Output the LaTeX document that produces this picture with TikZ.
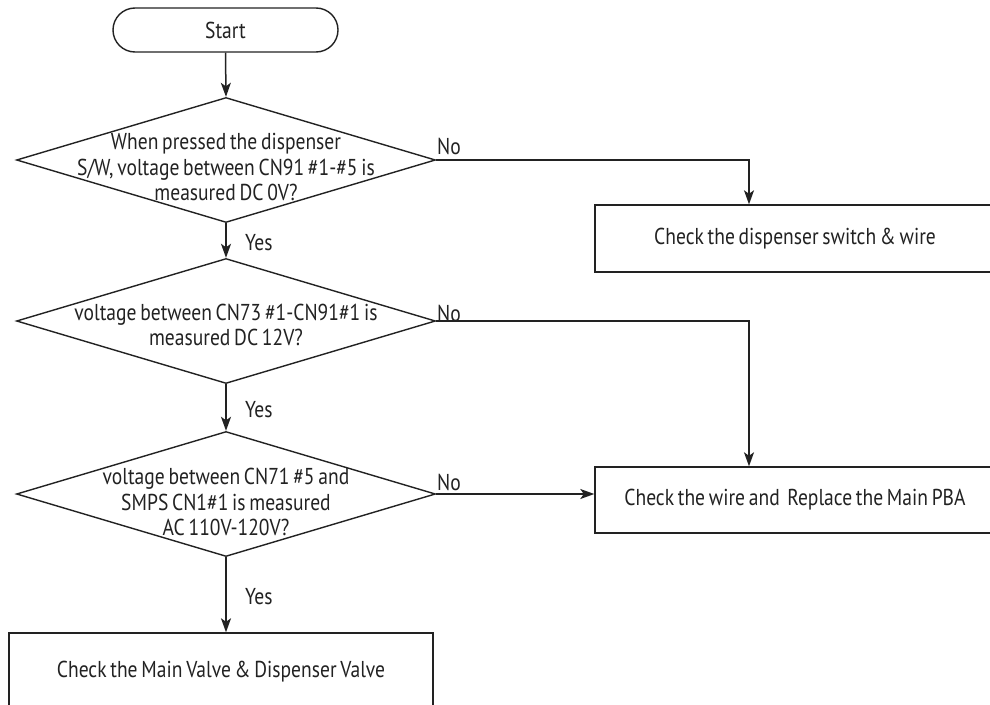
\documentclass[tikz,border=0pt]{standalone}
\usepackage{fontspec}
\setmainfont{PT Sans}[FakeStretch=0.85, WordSpace=0.72]
\usetikzlibrary{shapes.geometric,arrows.meta,calc}
\definecolor{ink}{HTML}{222222}
\tikzset{
  every node/.style={text=ink, font=\fontsize{23}{25.5}\selectfont},
  conn/.style={draw=ink, line width=1.5pt},
  arr/.style={conn, -{Stealth[length=14pt,width=10pt,inset=3.5pt]}},
  startbox/.style={draw=ink, line width=1.4pt, rectangle, rounded corners=22pt,
    minimum width=225pt, minimum height=44pt, inner sep=0pt},
  decision/.style={draw=ink, line width=1.4pt, diamond, aspect=3.35,
    minimum width=419pt, minimum height=125pt, inner sep=0pt},
  actionbox/.style={draw=ink, line width=1.4pt, rectangle, inner sep=0pt},
  qtext/.style={align=center, inner sep=0pt},
  lbl/.style={anchor=west, inner sep=0pt}
}
\begin{document}
\begin{tikzpicture}[x=1pt, y=-1pt]
\useasboundingbox (0,0) rectangle (990,704);
\clip (0,0) rectangle (990,704);
\fill[white] (0,0) rectangle (990,704);

% start terminal
\node[startbox] (start) at (225.5,30) {Start};

% decisions
\node[decision] (d1) at (226,160) {};
\node[qtext] (t1) at (226,167) {When pressed the dispenser\\S/W, voltage between CN91 \#1-\#5 is\\measured DC 0V?};

\node[decision] (d2) at (226,321) {};
\node[qtext] (t2) at (226,325) {voltage between CN73 \#1-CN91\#1 is\\measured DC 12V?};

\node[decision] (d3) at (226,494) {};
\node[qtext] (t3) at (226,502) {voltage between CN71 \#5 and\\SMPS CN1\#1 is measured\\AC 110V-120V?};

% actions
\node[actionbox, minimum width=400pt, minimum height=67pt] (b1) at (795,238.5) {Check the dispenser switch \& wire};
\node[actionbox, minimum width=400pt, minimum height=66pt] (b2) at (795,500) {Check the wire and~ Replace the Main PBA};
\node[actionbox, minimum width=424pt, minimum height=78pt] (b3) at (221,672) {Check the Main Valve \& Dispenser Valve};

% main flow
\draw[arr] (start.south) -- (d1.north);
\draw[arr] (d1.south) -- (d2.north);
\draw[arr] (d2.south) -- (d3.north);
\draw[arr] (d3.south) -- (d3.south |- b3.north);

% "No" branches
\coordinate (j1) at ($(b1.north)+(-46,0)$);
\coordinate (j2) at ($(b2.north)+(-46,0)$);
\draw[arr] (d1.east) -| (j1);
\draw[arr] (d2.east) -| (j2);
\draw[arr] (d3.east) -- (d3.east -| b2.west);

% branch labels
\node[lbl] (n1) at (437,146) {No};
\node[lbl] (n2) at (437,313) {No};
\node[lbl] (n3) at (437,482) {No};
\node[lbl] (y1) at (245,243) {Yes};
\node[lbl] (y2) at (245,410) {Yes};
\node[lbl] (y3) at (245,597) {Yes};
\end{tikzpicture}
\end{document}
